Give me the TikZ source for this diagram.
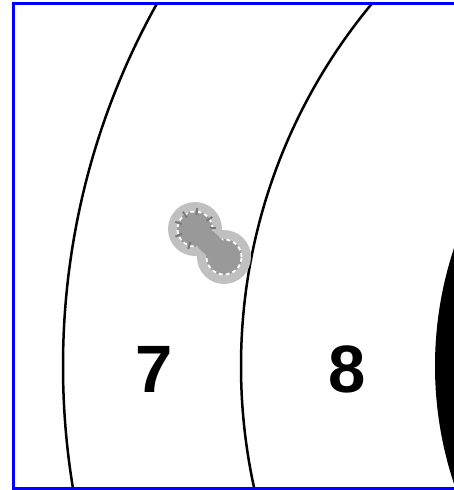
\documentclass[tikz,border=0pt]{standalone}
\usepackage{fontspec}
\setmainfont{Liberation Sans}
\usetikzlibrary{calc}
\definecolor{Frame}{HTML}{0000FF}
\definecolor{Halo}{HTML}{C0C0C0}
\definecolor{Hole}{HTML}{999999}
\definecolor{Tick}{HTML}{7A7A7A}
\tikzset{
 ring/.style={draw=black,line width=2.5pt},
 halo/.style={fill=Halo},
 hole/.style={fill=Hole},
 rim/.style={draw=white,line width=1.8pt,dash pattern=on 4pt off 3pt},
 notch/.style={draw=Tick,line width=2pt},
 score/.style={font=\bfseries\fontsize{67}{67}\selectfont,inner sep=0pt}
}
\begin{document}
\begin{tikzpicture}[x=1pt,y=-1pt]
\useasboundingbox (0,0) rectangle (453,490);
\coordinate (ctr) at (808,366);
\coordinate (h1) at (195,229);
\coordinate (h2) at (224,257);
% target rings
\begin{scope}
\clip (13,3) rectangle (460,488);
\draw[ring] (ctr) circle[radius=745pt];
\draw[ring] (ctr) circle[radius=567pt];
\fill (ctr) circle[radius=373pt];
\end{scope}
% shot holes
\fill[halo] (h1) circle[radius=27pt] (h2) circle[radius=27pt];
\fill[hole] (h1) circle[radius=18pt] (h2) circle[radius=18pt];
\draw[rim] (h1) circle[radius=17.5pt] (h2) circle[radius=17.5pt];
\foreach \a in {3,35,84,125,160,201,251,329}
  \draw[notch] ($(h1)+(\a:14pt)$) -- ($(h1)+(\a:21pt)$);
\draw[Hole,line width=22pt] (h1) -- (h2);
\node[score] (seven) at (154.5,369) {7};
\node[score] (eight) at (347,369) {8};
\draw[Frame,line width=3pt] (460,3) -- (13,3) -- (13,488.5) -- (460,488.5);
\end{tikzpicture}
\end{document}
